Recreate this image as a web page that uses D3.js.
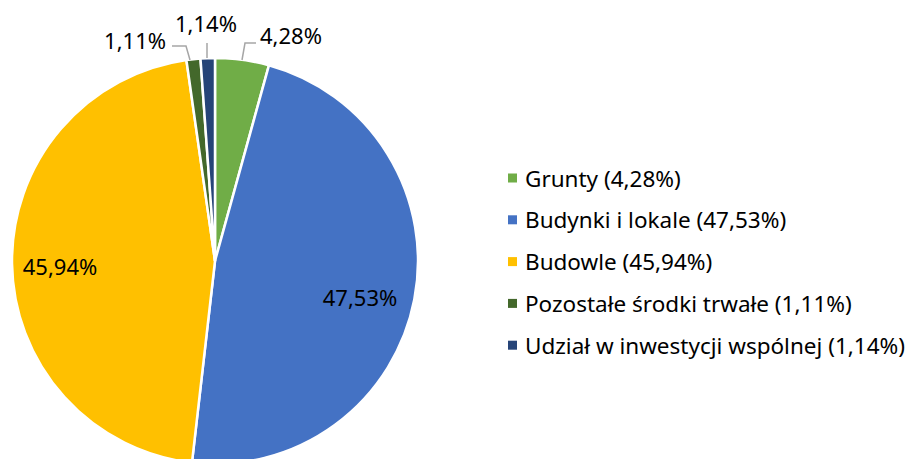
<!DOCTYPE html>
<html lang="pl">
<head>
    <meta charset="UTF-8">
    <title>Struktura aktywów trwałych</title>
    <script src="https://d3js.org/d3.v7.min.js"></script>
    <style>
        body { margin: 0; background: #fff; font-family: "Noto Sans", sans-serif; }
        svg { display: block; }
        .lbl { font-size: 22px; fill: #000; }
        .legend text { font-size: 22.5px; fill: #000; }
    </style>
</head>
<body>
    <svg width="911" height="459"></svg>
    <script>
        // data
        const categories = ["Grunty", "Budynki i lokale", "Budowle", "Pozostałe środki trwałe", "Udział w inwestycji wspólnej"];
        const shares = [4.28, 47.53, 45.94, 1.11, 1.14];
        const colors = ["#70ad47", "#4472c4", "#ffc000", "#43682b", "#264478"];

        const fmt = v => v.toFixed(2).replace(".", ",") + "%";

        const svg = d3.select("svg");
        const cx = 215, cy = 261, r = 203;

        const pie = d3.pie().sort(null).value(d => d)(shares);
        const arc = d3.arc().innerRadius(0).outerRadius(r);

        const g = svg.append("g").attr("transform", `translate(${cx},${cy})`);

        g.selectAll("path")
            .data(pie)
            .enter().append("path")
            .attr("d", arc)
            .attr("fill", (d, i) => colors[i])
            .attr("stroke", "#fff")
            .attr("stroke-width", 2.5);

        // big slices: labels inside
        const insideAt = { 1: [145, 36], 2: [-155, 5] };
        [1, 2].forEach(i => {
            g.append("text")
                .attr("class", "lbl")
                .attr("x", insideAt[i][0])
                .attr("y", insideAt[i][1])
                .attr("text-anchor", "middle")
                .attr("dominant-baseline", "central")
                .text(fmt(shares[i]));
        });

        // small slices: labels outside with leader lines
        const outside = [
            { i: 0, pts: [[27, -201], [30, -218], [41, -218]], tx: 45, ty: -226, anchor: "start" },
            { i: 4, pts: [[-8, -203], [-8, -218]], tx: -9, ty: -238, anchor: "middle" },
            { i: 3, pts: [[-25, -201], [-29, -215], [-43, -215]], tx: -49, ty: -221, anchor: "end" }
        ];
        outside.forEach(o => {
            g.append("polyline")
                .attr("points", o.pts.map(p => p.join(",")).join(" "))
                .attr("fill", "none")
                .attr("stroke", "#a6a6a6")
                .attr("stroke-width", 1.5);
            g.append("text")
                .attr("class", "lbl")
                .attr("x", o.tx)
                .attr("y", o.ty)
                .attr("text-anchor", o.anchor)
                .attr("dominant-baseline", "central")
                .text(fmt(shares[o.i]));
        });

        // legend
        const legend = svg.append("g").attr("class", "legend").attr("transform", "translate(508,178)");
        const item = legend.selectAll("g")
            .data(categories)
            .enter().append("g")
            .attr("transform", (d, i) => `translate(0,${i * 41.8})`);
        item.append("rect")
            .attr("x", 0).attr("y", -4.5)
            .attr("width", 9).attr("height", 9)
            .attr("fill", (d, i) => colors[i]);
        item.append("text")
            .attr("x", 17)
            .attr("y", 0)
            .attr("dominant-baseline", "central")
            .text((d, i) => `${d} (${fmt(shares[i])})`);
    </script>
</body>
</html>
